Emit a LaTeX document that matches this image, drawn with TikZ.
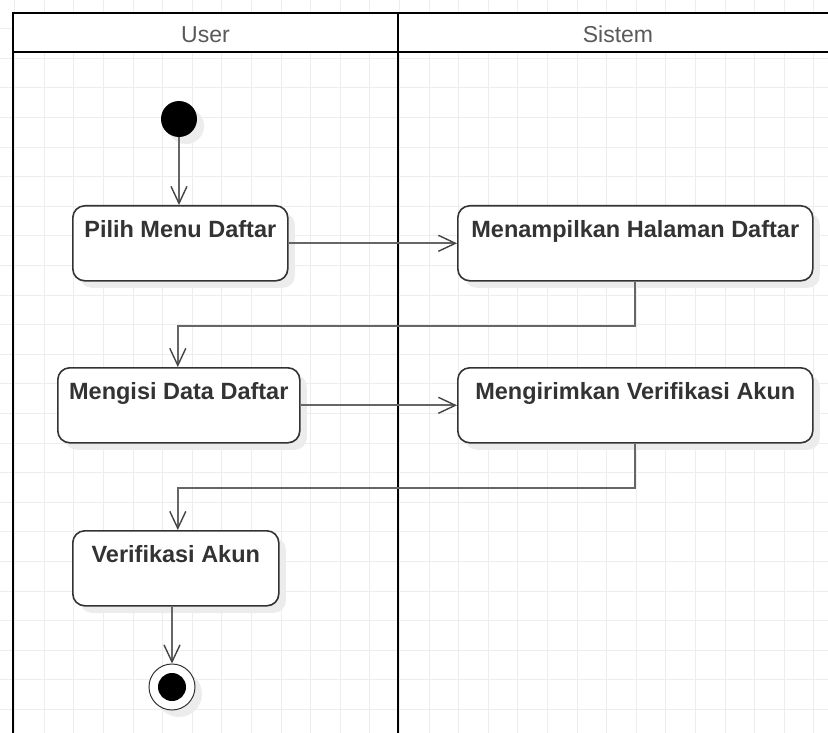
\documentclass[tikz,border=0pt]{standalone}
\usepackage{fontspec}
\setmainfont{Liberation Sans}
\usetikzlibrary{arrows.meta,shadows}
\definecolor{gridc}{HTML}{EDEDED}
\definecolor{edgec}{HTML}{666666}
\definecolor{tipc}{HTML}{444444}
\definecolor{boxc}{HTML}{333333}
\definecolor{headc}{HTML}{595959}
\definecolor{shadowc}{HTML}{ECECEC}
\begin{document}
\begin{tikzpicture}[x=1pt,y=-1pt,
  softshadow/.style={drop shadow={shadow xshift=7pt, shadow yshift=-7pt,
      fill=shadowc, draw=none, opacity=1}},
  actbox/.style={draw=boxc, line width=1.6pt, fill=white, rounded corners=12pt,
    anchor=north west, font=\fontsize{23.5}{28}\selectfont\bfseries, text=boxc,
    inner xsep=0pt, inner ysep=0pt, text height=32pt, text depth=43pt, softshadow},
  flow/.style={draw=edgec, line width=2pt,
    -{Straight Barb[length=17pt,width=16pt,line width=1.4pt,color=tipc]}},
  lane/.style={draw=black, line width=2.5pt},
  headtxt/.style={anchor=base, font=\fontsize{23}{28}\selectfont, text=headc},
  gridline/.style={draw=gridc, line width=1pt}]

  % canvas and background grid
  \useasboundingbox (0,0) rectangle (828,733);
  \fill[white] (0,0) rectangle (828,733);
  \foreach \k in {0,...,29} {
    \draw[gridline] ({-15+29.6*\k},0) -- ({-15+29.6*\k},733);
    \draw[gridline] (0,{-0.9+29.6*\k}) -- (828,{-0.9+29.6*\k});
  }

  % swimlanes
  \fill[white] (13,13) rectangle (828,52);
  \draw[lane] (828,13) -- (13,13) -- (13,733);
  \draw[lane] (13,52) -- (828,52);
  \draw[lane] (398,13) -- (398,733);
  \node[headtxt] (userhead) at (205.5,43) {User};
  \node[headtxt] (sistemhead) at (618,43) {Sistem};

  % initial and final states
  \node[circle, fill=black, minimum size=36pt, inner sep=0pt, softshadow]
    (start) at (179,119) {};
  \node[circle, draw=boxc, line width=1pt, fill=white, minimum size=46pt,
    inner sep=0pt, softshadow] (final) at (172,687) {};
  \node[circle, fill=black, minimum size=28pt, inner sep=0pt] (finaldot) at (final) {};

  % actions
  \node[actbox, minimum width=215pt] (pilih)  at (72,205)  {Pilih Menu Daftar};
  \node[actbox, minimum width=355pt] (tampil) at (457,205) {Menampilkan Halaman Daftar};
  \node[actbox, minimum width=242pt] (isi)    at (57,367)  {Mengisi Data Daftar};
  \node[actbox, minimum width=355pt] (kirim)  at (457,367) {Mengirimkan Verifikasi Akun};
  \node[actbox, minimum width=206pt] (verif)  at (72,530)  {Verifikasi Akun};

  % control flow
  \draw[flow] (start) -- (start |- pilih.north);
  \draw[flow] (pilih.east) -- (pilih.east -| tampil.west);
  \draw[flow] (tampil.south) -- ++(0,44) -| ([xshift=-1pt]isi.north);
  \draw[flow] (isi.east) -- (isi.east -| kirim.west);
  \draw[flow] (kirim.south) -- ++(0,44) -| ([xshift=2pt]verif.north);
  \draw[flow] (final |- verif.south) -- (final);
\end{tikzpicture}
\end{document}
